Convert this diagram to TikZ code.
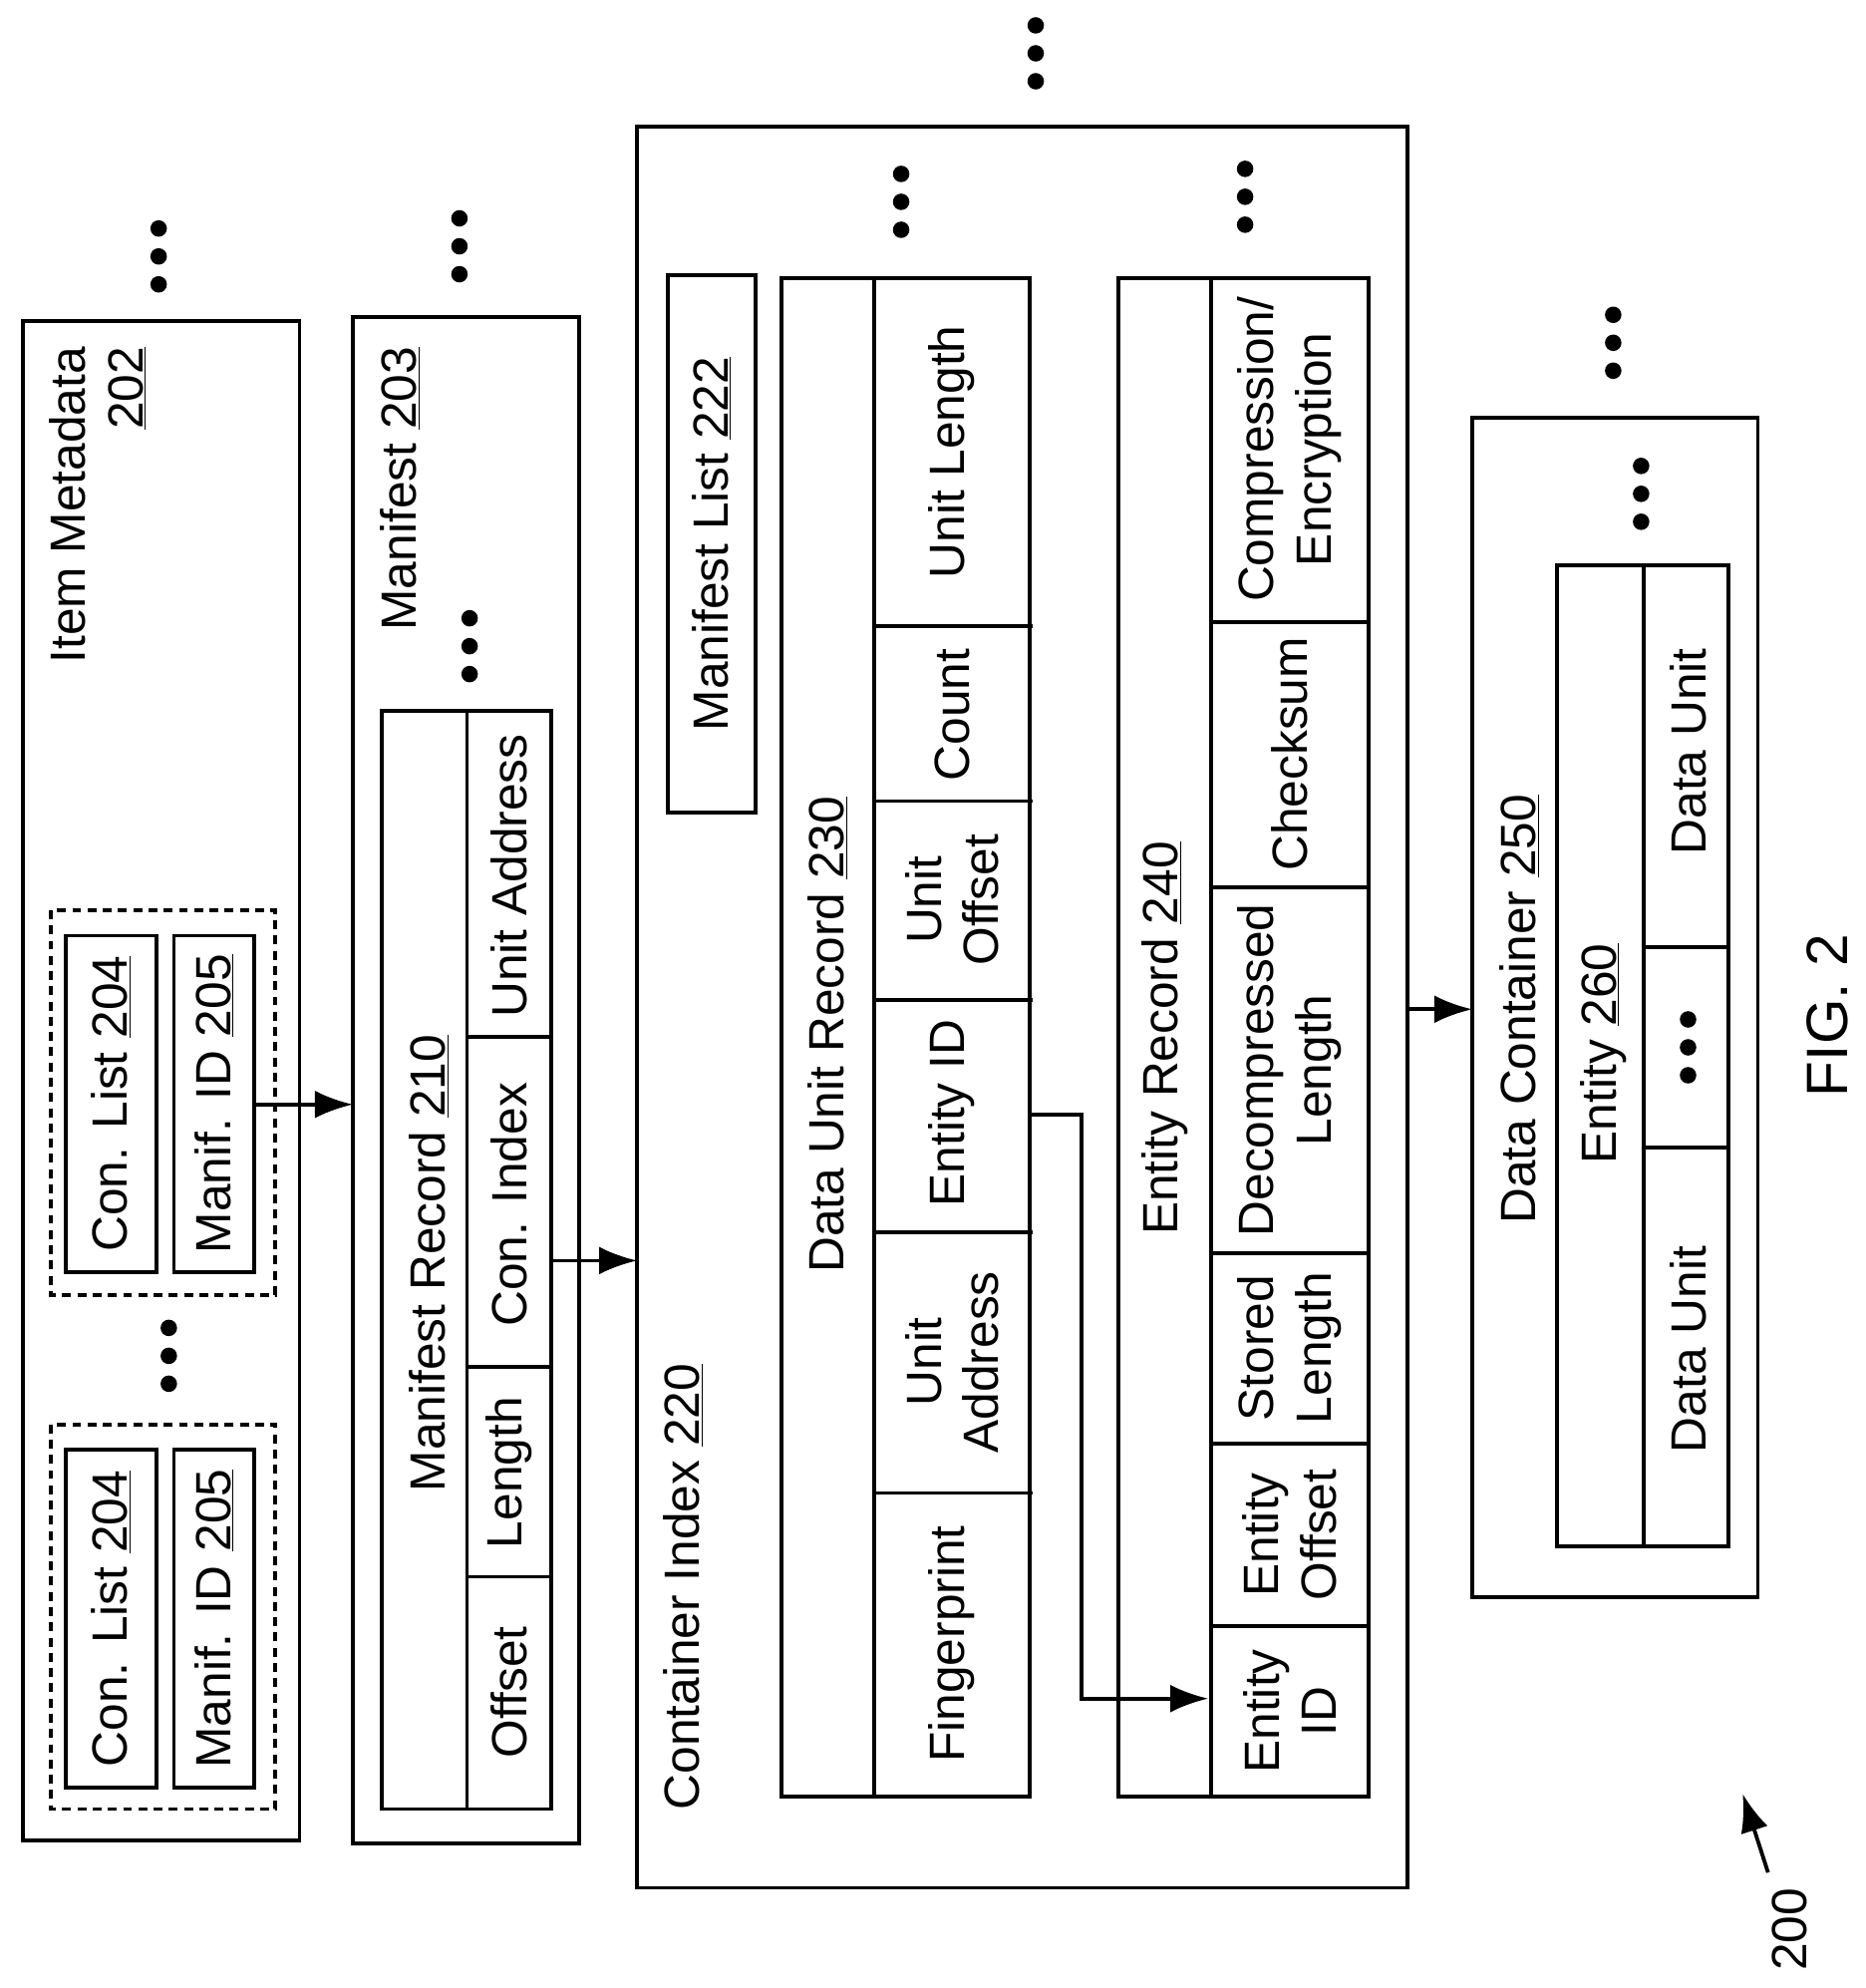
\documentclass[tikz,border=0pt]{standalone}
\usepackage{fontspec}
\setmainfont{Liberation Sans}
\usetikzlibrary{arrows.meta}
\begin{document}
\begin{tikzpicture}[x=1pt,y=-1pt,line width=3pt,
 box/.style={draw,line width=3pt},
 t/.style={rotate=90,font=\fontsize{39}{45}\selectfont,align=center,inner sep=0pt},
 arr/.style={-{Latex[length=30pt,width=22pt]},line width=3pt},
 dot/.style={circle,fill,inner sep=0pt,minimum size=13pt}]
\useasboundingbox (0,0) rectangle (1470,1566);
\newcommand\mydots[2]{\node[dot] at (#1,#2) {};\node[dot] at (#1,#2+22) {};\node[dot] at (#1,#2+44) {};}
% Item metadata
\draw[box] (18,253) rectangle (236,1450);
\node[t,align=right] at (77,398) {Item Metadata\\\underline{202}};
\mydots{125}{180}
\draw[dash pattern=on 7pt off 5pt,line width=3pt] (40,717) rectangle (217,1020);
\draw[dash pattern=on 7pt off 5pt,line width=3pt] (40,1122) rectangle (217,1425);
\draw[box] (52,737) rectangle (123,1002) node[t,midway] (cl1) {Con. List \underline{204}};
\draw[box] (137,737) rectangle (200,1002) node[t,midway] (mi1) {Manif. ID \underline{205}};
\draw[box] (52,1142) rectangle (123,1408) node[t,midway] {Con. List \underline{204}};
\draw[box] (137,1142) rectangle (200,1408) node[t,midway] {Manif. ID \underline{205}};
\mydots{133}{1046}
\coordinate (m1) at (200,870); \coordinate (m2) at (278,870);
\draw[arr] (m1) -- (m2);
% Manifest
\draw[box] (278,250) rectangle (456,1452);
\node[t] at (315,385) {Manifest \underline{203}};
\mydots{362}{172}
\mydots{370}{487}
\draw[box] (301,560) rectangle (434,1425);
\draw (368,560) -- (368,1425);
\node[t] at (338,995) {Manifest Record \underline{210}};
\foreach \y in {817,1077,1242} \draw (368,\y) -- (434,\y);
\node[t] at (401,690) {Unit Address};
\node[t] at (401,949) {Con. Index};
\node[t] at (401,1160) {Length};
\node[t] at (401,1333) {Offset};
\coordinate (c1) at (434,993); \coordinate (c2) at (502,993);
\draw[arr] (c1) -- (c2);
% Container index
\draw[box] (502,100) rectangle (1109,1487);
\node[t] at (538,1250) {Container Index \underline{220}};
\mydots{816}{20}
\draw[box] (526,217) rectangle (595,640) node[t,midway] {Manifest List \underline{222}};
% data unit record
\draw[box] (616,219) rectangle (811,1415);
\draw (689,219) -- (689,1415);
\node[t] at (652,815) {Data Unit Record \underline{230}};
\foreach \y in {493,631,788,971,1176} \draw (689,\y) -- (814,\y);
\node[t] at (750,356) {Unit Length};
\node[t] at (750,563) {Count};
\node[t] at (750,709) {Unit\\Offset};
\node[t] at (750,877) {Entity ID};
\node[t] at (750,1073) {Unit\\Address};
\node[t] at (750,1295) {Fingerprint};
\mydots{710}{137}
% entity record
\draw[box] (881,219) rectangle (1078,1415);
\draw (954,219) -- (954,1415);
\node[t] at (918,818) {Entity Record \underline{240}};
\foreach \y in {490,699,987,1137,1281} \draw (954,\y) -- (1078,\y);
\node[t] at (1016,354) {Compression/\\Encryption};
\node[t] at (1016,594) {Checksum};
\node[t] at (1016,843) {Decompressed\\Length};
\node[t] at (1016,1062) {Stored\\Length};
\node[t] at (1016,1209) {Entity\\Offset};
\node[t] at (1016,1348) {Entity\\ID};
\mydots{981}{133}
\coordinate (e1) at (811,878); \coordinate (e2) at (952,1338);
\draw[arr] (e1) -- (852,878) -- (852,1338) -- (e2);
\coordinate (d1) at (1109,795); \coordinate (d2) at (1160,795);
\draw[arr] (d1) -- (d2);
% data container
\draw[box] (1160,329) rectangle (1385,1258);
\node[t] at (1197,795) {Data Container \underline{250}};
\mydots{1271}{248}
\mydots{1293}{367}
\draw[box] (1227,445) rectangle (1362,1218);
\draw (1295,445) -- (1295,1218);
\node[t] at (1263,830) {Entity \underline{260}};
\foreach \y in {746,904} \draw (1295,\y) -- (1362,\y);
\node[t] at (1330,592) {Data Unit};
\node[t] at (1330,1063) {Data Unit};
\mydots{1330}{803}
\node[t,font=\fontsize{46}{50}\selectfont] at (1440,800) {FIG. 2};
\node[t] at (1410,1520) {200};
\coordinate (a1) at (1393,1475); \coordinate (a2) at (1373,1413);
\draw[arr] (a1) -- (a2);
\end{tikzpicture}
\end{document}
